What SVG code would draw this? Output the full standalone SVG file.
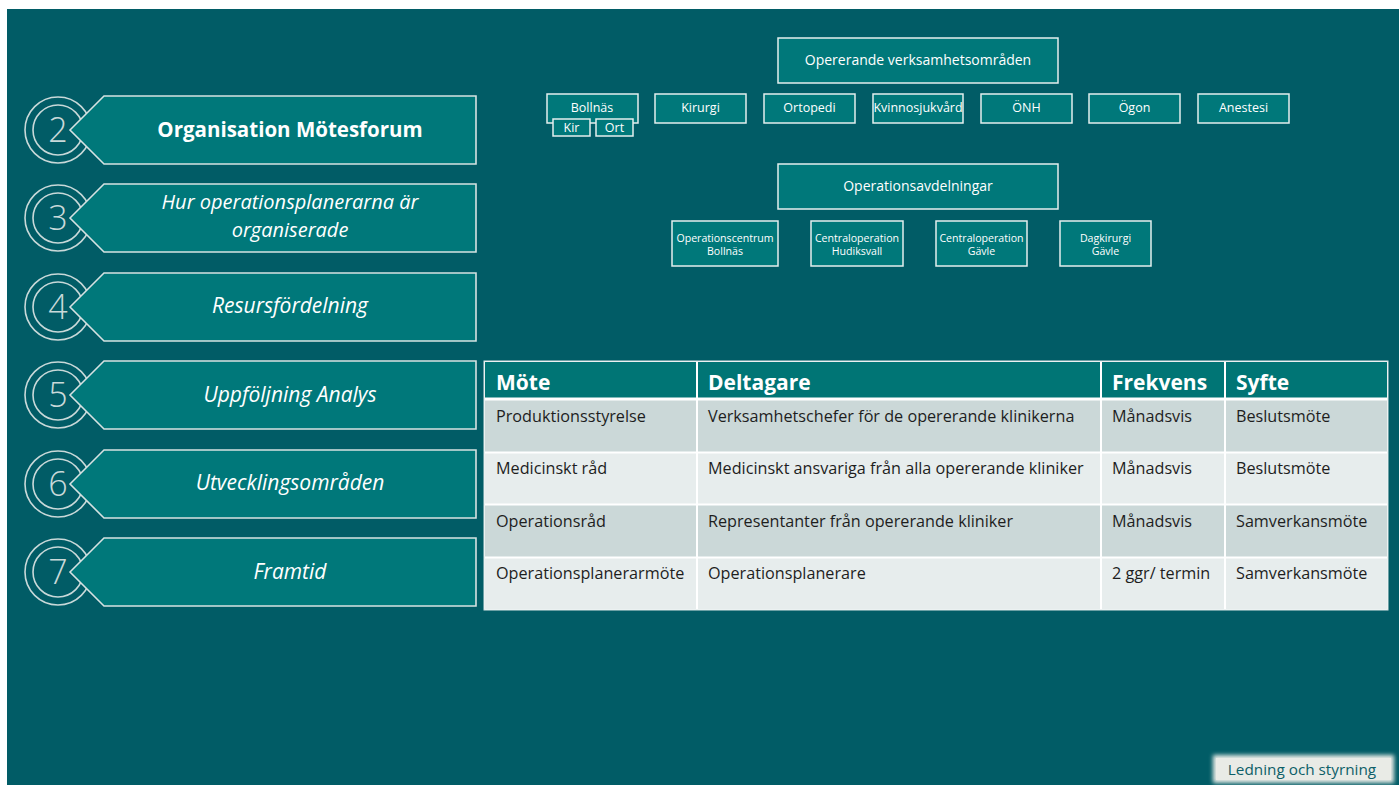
<svg xmlns="http://www.w3.org/2000/svg" width="1399" height="785" viewBox="0 0 1399 785">
<defs>
<style>
.bg{fill:#015c66}
.ring{fill:none;stroke:#c9d9d9;stroke-width:1.6}
.pent{fill:#00787a;stroke:#d6e2e2;stroke-width:1.6}
.num{font-family:"Open Sans","Noto Sans",sans-serif;font-weight:300;font-size:34px;fill:#c9d9d9;text-anchor:middle}
.menu{font-family:"Open Sans","Noto Sans",sans-serif;font-style:italic;font-size:21px;fill:#ffffff;text-anchor:middle}
.menu2{font-family:"Open Sans","Noto Sans",sans-serif;font-style:italic;font-size:20px;fill:#ffffff;text-anchor:middle}
.menub{font-family:"Open Sans","Noto Sans",sans-serif;font-weight:bold;font-size:20.5px;fill:#ffffff;text-anchor:middle}
.box{fill:#00787a;stroke:#e4eeee;stroke-width:1.5}
.bt{font-family:"Open Sans","Noto Sans",sans-serif;font-size:14px;fill:#ffffff;text-anchor:middle}
.st{font-family:"Open Sans","Noto Sans",sans-serif;font-size:12.5px;fill:#ffffff;text-anchor:middle}
.tt{font-family:"Open Sans","Noto Sans",sans-serif;font-size:10.6px;fill:#ffffff;text-anchor:middle}
.th{font-family:"Open Sans","Noto Sans",sans-serif;font-weight:bold;font-size:21px;fill:#ffffff}
.td{font-family:"Open Sans","Noto Sans",sans-serif;font-size:16.2px;fill:#1e1e1e}
.rowa{fill:#cbd8d8}
.rowb{fill:#e7eded}
.grid{stroke:#ffffff;stroke-width:2}
</style>
<filter id="glow" x="-20%" y="-40%" width="140%" height="180%">
<feGaussianBlur stdDeviation="2"/>
</filter>
</defs>
<rect x="0" y="0" width="1399" height="785" fill="#ffffff"/>
<rect class="bg" x="7" y="9" width="1392" height="776"/>

<g id="menu-2">
<circle class="ring" cx="58" cy="130" r="33"/>
<circle class="ring" cx="58" cy="130" r="25"/>
<polygon class="pent" points="70,130 104,96 476,96 476,164 104,164"/>
<text class="num" x="58" y="142">2</text>
<text class="menub" x="290" y="137">Organisation Mötesforum</text>
</g>
<g id="menu-3">
<circle class="ring" cx="58" cy="218" r="33"/>
<circle class="ring" cx="58" cy="218" r="25"/>
<polygon class="pent" points="70,218 104,184 476,184 476,252 104,252"/>
<text class="num" x="58" y="230">3</text>
<text class="menu2" x="290" y="209">Hur operationsplanerarna är</text>
<text class="menu2" x="290" y="237">organiserade</text>
</g>
<g id="menu-4">
<circle class="ring" cx="58" cy="307" r="33"/>
<circle class="ring" cx="58" cy="307" r="25"/>
<polygon class="pent" points="70,307 104,273 476,273 476,341 104,341"/>
<text class="num" x="58" y="319">4</text>
<text class="menu" x="290" y="313">Resursfördelning</text>
</g>
<g id="menu-5">
<circle class="ring" cx="58" cy="395" r="33"/>
<circle class="ring" cx="58" cy="395" r="25"/>
<polygon class="pent" points="70,395 104,361 476,361 476,429 104,429"/>
<text class="num" x="58" y="407">5</text>
<text class="menu" x="290" y="402">Uppföljning Analys</text>
</g>
<g id="menu-6">
<circle class="ring" cx="58" cy="484" r="33"/>
<circle class="ring" cx="58" cy="484" r="25"/>
<polygon class="pent" points="70,484 104,450 476,450 476,518 104,518"/>
<text class="num" x="58" y="496">6</text>
<text class="menu" x="290" y="490">Utvecklingsområden</text>
</g>
<g id="menu-7">
<circle class="ring" cx="58" cy="572" r="33"/>
<circle class="ring" cx="58" cy="572" r="25"/>
<polygon class="pent" points="70,572 104,538 476,538 476,606 104,606"/>
<text class="num" x="58" y="584">7</text>
<text class="menu" x="290" y="579">Framtid</text>
</g>

<g id="connectors"></g>

<g id="opererande">
<rect class="box" x="778" y="38" width="280" height="45"/>
<text class="bt" x="918" y="65">Opererande verksamhetsområden</text>
</g>
<g id="bollnas">
<rect class="box" x="547" y="94" width="91" height="29"/>
<text class="st" x="592" y="112">Bollnäs</text>
</g>
<g id="kir">
<rect class="box" x="553" y="119" width="37" height="17"/>
<text class="st" x="571.5" y="132">Kir</text>
</g>
<g id="ort">
<rect class="box" x="596" y="119" width="37" height="17"/>
<text class="st" x="614.5" y="132">Ort</text>
</g>
<g id="kirurgi">
<rect class="box" x="655" y="94" width="91" height="29"/>
<text class="st" x="700.5" y="112">Kirurgi</text>
</g>
<g id="ortopedi">
<rect class="box" x="764" y="94" width="91" height="29"/>
<text class="st" x="809.5" y="112">Ortopedi</text>
</g>
<g id="kvinnosjukvard">
<rect class="box" x="873" y="94" width="90" height="29"/>
<text class="st" x="918" y="112">Kvinnosjukvård</text>
</g>
<g id="onh">
<rect class="box" x="981" y="94" width="91" height="29"/>
<text class="st" x="1026.5" y="112">ÖNH</text>
</g>
<g id="ogon">
<rect class="box" x="1089" y="94" width="91" height="29"/>
<text class="st" x="1134.5" y="112">Ögon</text>
</g>
<g id="anestesi">
<rect class="box" x="1198" y="94" width="91" height="29"/>
<text class="st" x="1243.5" y="112">Anestesi</text>
</g>

<g id="operationsavdelningar">
<rect class="box" x="778" y="164" width="280" height="45"/>
<text class="bt" x="918" y="191">Operationsavdelningar</text>
</g>
<g id="oc-bollnas">
<rect class="box" x="672" y="221" width="106" height="45"/>
<text class="tt" x="725" y="241.5">Operationscentrum</text>
<text class="tt" x="725" y="254.5">Bollnäs</text>
</g>
<g id="co-hudiksvall">
<rect class="box" x="811" y="221" width="92" height="45"/>
<text class="tt" x="857" y="241.5">Centraloperation</text>
<text class="tt" x="857" y="254.5">Hudiksvall</text>
</g>
<g id="co-gavle">
<rect class="box" x="936" y="221" width="91" height="45"/>
<text class="tt" x="981.5" y="241.5">Centraloperation</text>
<text class="tt" x="981.5" y="254.5">Gävle</text>
</g>
<g id="dk-gavle">
<rect class="box" x="1060" y="221" width="91" height="45"/>
<text class="tt" x="1105.5" y="241.5">Dagkirurgi</text>
<text class="tt" x="1105.5" y="254.5">Gävle</text>
</g>

<g id="table">
<rect x="484" y="361" width="904" height="249" fill="#ffffff" stroke="#d8e4e4" stroke-width="1"/>
<rect x="485" y="362" width="902" height="36" fill="#007575"/>
<rect class="rowa" x="485" y="400" width="902" height="52"/>
<rect class="rowb" x="485" y="453" width="902" height="51"/>
<rect class="rowa" x="485" y="505" width="902" height="52"/>
<rect class="rowb" x="485" y="558" width="902" height="51"/>
<line class="grid" x1="697" y1="362" x2="697" y2="609"/>
<line class="grid" x1="1101" y1="362" x2="1101" y2="609"/>
<line class="grid" x1="1225" y1="362" x2="1225" y2="609"/>
<line x1="485" y1="399" x2="1387" y2="399" stroke="#ffffff" stroke-width="3"/>
<line class="grid" x1="485" y1="452.5" x2="1387" y2="452.5"/>
<line class="grid" x1="485" y1="504.5" x2="1387" y2="504.5"/>
<line class="grid" x1="485" y1="557.5" x2="1387" y2="557.5"/>
<text class="th" x="496" y="390">Möte</text>
<text class="th" x="708" y="390">Deltagare</text>
<text class="th" x="1112" y="390">Frekvens</text>
<text class="th" x="1236" y="390">Syfte</text>
<text class="td" x="496" y="422">Produktionsstyrelse</text>
<text class="td" x="708" y="422">Verksamhetschefer för de opererande klinikerna</text>
<text class="td" x="1112" y="422">Månadsvis</text>
<text class="td" x="1236" y="422">Beslutsmöte</text>
<text class="td" x="496" y="474">Medicinskt råd</text>
<text class="td" x="708" y="474">Medicinskt ansvariga från alla opererande kliniker</text>
<text class="td" x="1112" y="474">Månadsvis</text>
<text class="td" x="1236" y="474">Beslutsmöte</text>
<text class="td" x="496" y="527">Operationsråd</text>
<text class="td" x="708" y="527">Representanter från opererande kliniker</text>
<text class="td" x="1112" y="527">Månadsvis</text>
<text class="td" x="1236" y="527">Samverkansmöte</text>
<text class="td" x="496" y="579">Operationsplanerarmöte</text>
<text class="td" x="708" y="579">Operationsplanerare</text>
<text class="td" x="1112" y="579">2 ggr/ termin</text>
<text class="td" x="1236" y="579">Samverkansmöte</text>
</g>

<g id="ledning">
<rect x="1213" y="755" width="181" height="28" fill="#e9ebe6" filter="url(#glow)"/>
<rect x="1216" y="758" width="175" height="22" fill="#e9ebe6"/>
<text x="1302" y="775" font-family="Open Sans, Noto Sans, sans-serif" font-size="15.3px" fill="#0d5f68" text-anchor="middle">Ledning och styrning</text>
</g>
</svg>
